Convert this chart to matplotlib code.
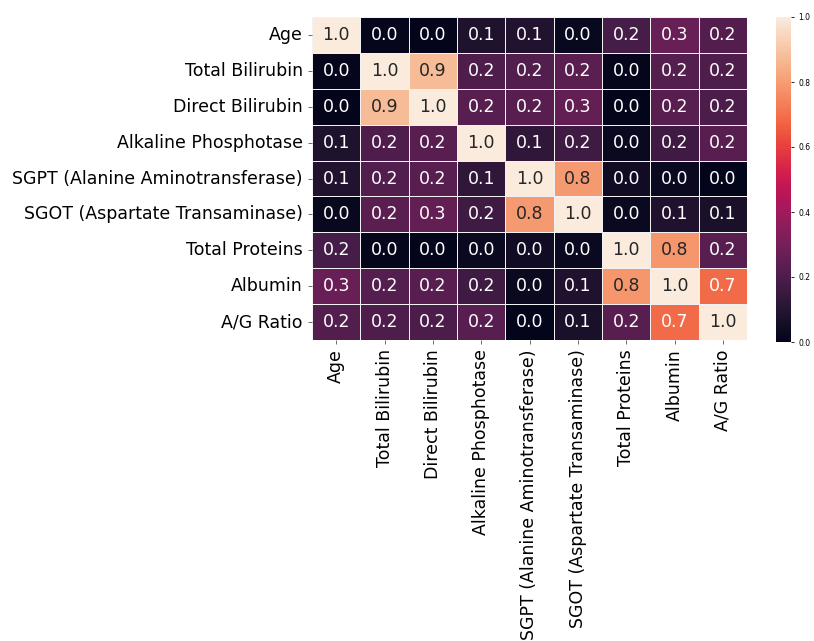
import numpy as np
import matplotlib
matplotlib.use("Agg")
import matplotlib.pyplot as plt
import seaborn as sns

labels = ["Age", "Total Bilirubin", "Direct Bilirubin", "Alkaline Phosphotase",
          "SGPT (Alanine Aminotransferase)", "SGOT (Aspartate Transaminase)",
          "Total Proteins", "Albumin", "A/G Ratio"]

# absolute correlations
age     = [1.0, 0.011, 0.007, 0.080, 0.087, 0.020, 0.187, 0.266, 0.216]
tbil    = [0.011, 1.0, 0.874, 0.207, 0.214, 0.238, 0.008, 0.222, 0.206]
dbil    = [0.007, 0.874, 1.0, 0.234, 0.234, 0.257, 0.001, 0.228, 0.200]
alkphos = [0.080, 0.207, 0.234, 1.0, 0.126, 0.167, 0.029, 0.165, 0.234]
sgpt    = [0.087, 0.214, 0.234, 0.126, 1.0, 0.792, 0.043, 0.030, 0.002]
sgot    = [0.020, 0.238, 0.257, 0.167, 0.792, 1.0, 0.026, 0.085, 0.070]
tprot   = [0.187, 0.008, 0.001, 0.029, 0.043, 0.026, 1.0, 0.784, 0.234]
alb     = [0.266, 0.222, 0.228, 0.165, 0.030, 0.085, 0.784, 1.0, 0.690]
agratio = [0.216, 0.206, 0.200, 0.234, 0.002, 0.070, 0.234, 0.690, 1.0]

data = np.array([age, tbil, dbil, alkphos, sgpt, sgot, tprot, alb, agratio])

fig = plt.figure(figsize=(8.14, 6.41), dpi=100)
ax = fig.add_axes([312/814, 1 - 340/641, 435/814, 323/641])
cax = fig.add_axes([776/814, 1 - 342/641, 15/814, 325/641])

sns.heatmap(data, ax=ax, cbar_ax=cax, cmap="rocket", vmin=0, vmax=1,
            annot=True, fmt=".1f", linewidths=0.6, linecolor="#f2f2f2",
            annot_kws={"fontsize": 12.5},
            xticklabels=labels, yticklabels=labels)
ax.tick_params(axis="both", labelsize=12.5, length=3, width=0.6, color="#555555")
plt.setp(ax.get_xticklabels(), rotation=90)
plt.setp(ax.get_yticklabels(), rotation=0)
cax.tick_params(labelsize=5.5, length=2, width=0.6)
cax.set_yticks([0.0, 0.2, 0.4, 0.6, 0.8, 1.0])
cax.set_yticklabels(["0.0", "0.2", "0.4", "0.6", "0.8", "1.0"])

fig.savefig("out.png", dpi=100)
